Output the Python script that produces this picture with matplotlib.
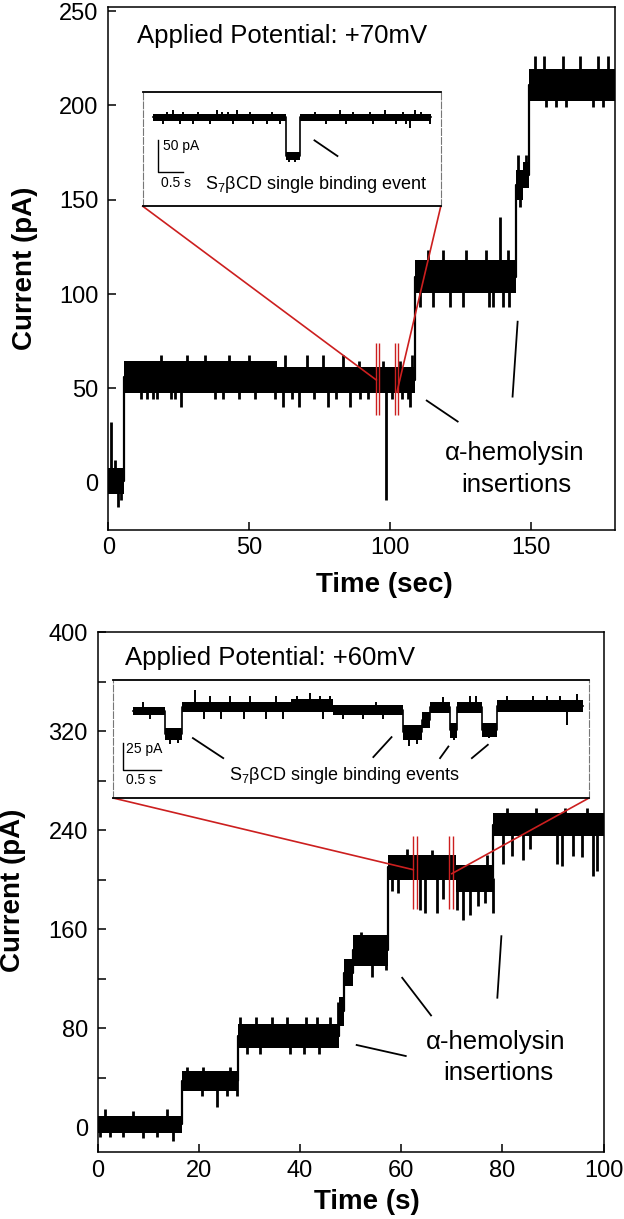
import numpy as np
import matplotlib
matplotlib.use("Agg")
import matplotlib.pyplot as plt
from matplotlib.ticker import MultipleLocator

plt.rcParams['font.family'] = ['Liberation Sans', 'DejaVu Sans']
plt.rcParams['mathtext.fontset'] = 'custom'
plt.rcParams['mathtext.rm'] = 'Liberation Sans'
plt.rcParams['mathtext.it'] = 'Liberation Sans:italic'
plt.rcParams['mathtext.default'] = 'regular'

# ---- top panel (+70 mV): noise band per level (edges, low, high) ----
top_edges = [0, 5.5, 60, 109, 144.9, 147.2, 149.6, 180]
top_lo = [-6, 47.5, 47.5, 100.5, 150, 156, 202.6]
top_hi = [8, 64.7, 61.5, 118, 165.6, 170, 219.4]
top_spk_t = [1.1, 2.4, 3.5, 4.6,
             11.7, 13.8, 16.0, 17.4, 18.8, 22.3, 23.7, 25.9, 28.0, 34.3, 37.9, 40.7,
             42.8, 46.4, 49.9, 52.0, 59.1, 61.9, 62.6, 65.4, 67.6, 70.4, 73.2, 76.1,
             78.2, 81.0, 83.4, 86.0, 89.0, 89.5, 92.3, 97.5, 98.5, 100.8, 103.5, 104.3,
             106.5, 107.2, 108.0,
             110.6, 113.5, 115.3, 118.8, 121.2, 126.0, 127.1, 134.2, 135.4, 136.6,
             139.3, 140.1, 141.9, 142.5,
             145.5, 146.2, 148.5,
             151.4, 154.9, 155.5, 159.1, 161.4, 162.6, 167.4, 172.1, 173.8, 175.6, 177.4]
top_spk_v = [32, 12, -12.7, -9,
             44.4, 44.4, 44.4, 44.4, 68, 44.4, 44.4, 40.4, 68, 68, 44.4, 44.4,
             68, 44.4, 68, 44.4, 44.4, 40.4, 68, 44.4, 40.4, 68, 44.4, 68,
             40.4, 44.4, 68, 40.4, 64.7, 44.4, 44.4, 64.7, -9, 44.4, 64.7, 44.4,
             44.4, 40.4, 68,
             93.3, 123.3, 93.3, 123.3, 93.3, 93.3, 123.3, 123.3, 93.3, 93.3,
             141, 93.3, 123.3, 93.3,
             173.5, 146, 174,
             226, 226, 199, 199, 226, 199, 226, 199, 226, 199, 226]

# inset of the top panel (single binding event)
ti_edges = [0.21, 2.86, 3.15, 5.78]
ti_lo = [49.2, -12.2, 49.2]
ti_hi = [60.8, 0.8, 60.8]
ti_spk_t = [0.48, 0.61, 0.81, 1.11, 1.48, 1.58, 1.71, 1.88, 2.15, 2.58, 3.45, 3.95,
            4.21, 4.55, 4.85, 5.21, 5.45, 5.58,
            0.41, 0.75, 1.01, 1.35, 1.81, 2.21, 2.48, 2.75, 3.68, 4.08, 4.61, 5.08,
            5.28, 5.35, 5.75, 2.92, 3.05]
ti_spk_v = [64, 66, 64, 64, 66, 64, 64, 66, 64, 64, 64, 66,
            64, 64, 66, 64, 66, 64,
            45, 45, 45, 45, 45, 45, 45, 45, 45, 45, 45, 45,
            45, 38, 45, -15, -15]

# ---- bottom panel (+60 mV) ----
bot_edges = [0, 16.6, 27.8, 47.8, 48.6, 50.4, 57.4, 70.8, 78.2, 100]
bot_lo = [-4.3, 29.3, 64.3, 82, 114, 130, 200, 190, 235]
bot_hi = [9.1, 45.4, 83, 105, 135.5, 155.6, 220, 212, 254]
bot_spk_t = [0.5, 1.5, 2.5, 5.1, 7.0, 9.0, 11.7, 13.7, 15.0,
             17.6, 20.6, 20.9, 23.5, 25.5, 26.2, 27.5,
             28.1, 29.5, 31.4, 32.1, 34.4, 37.4, 38.0, 40.7, 41.2, 43.3, 43.8, 45.9, 47.5,
             52.0, 54.3, 56.9,
             58.1, 59.4, 61.1, 63.7, 64.7, 66.0, 67.0, 68.3,
             71.0, 72.3, 73.6, 75.2, 76.6, 76.9, 78.1,
             80.2, 80.9, 81.8, 84.1, 85.5, 86.6, 90.7, 91.7, 92.3, 94.0, 95.7, 96.7, 98.0, 98.6]
bot_spk_v = [-8, 15, -8, -8, 13, -9, -8, 15, -11,
             49, 25, 49, 16, 25, 49, 25,
             89, 59, 89, 59, 89, 89, 59, 59, 89, 89, 59, 89, 101,
             158, 121, 127,
             190.6, 189, 224.7, 175.8, 173, 224, 173, 184,
             175.8, 167.7, 171.8, 178.5, 181, 220, 173,
             213, 258, 219, 216, 225, 258, 213, 211, 258, 219, 218, 258, 203, 207]

# inset of the bottom panel (binding events)
bi_edges = [0.26, 0.68, 0.9, 2.35, 2.9, 3.82, 4.07, 4.18, 4.44, 4.53, 4.86, 5.06, 6.2]
bi_lo = [197.5, 174.1, 200.6, 200.6, 197.5, 174.1, 185, 199.1, 176, 199, 177.2, 200.6]
bi_hi = [205.3, 185, 210, 212, 206.9, 188.1, 200, 210, 190, 210, 189.7, 211.6]
bi_spk_t = [0.39, 1.08, 1.27, 1.54, 1.8, 2.15, 2.42, 2.59, 2.72, 2.86, 3.47, 4.35,
            4.7, 4.79, 5.19, 5.54, 5.72, 5.89, 6.11,
            0.48, 1.2, 1.42, 1.73, 2.02, 2.24, 2.77, 3.03, 3.3, 3.56, 5.98,
            0.75, 0.85, 3.9, 4.0, 4.95, 4.49]
bi_spk_v = [210, 221, 215, 215, 215, 215, 215, 218, 215, 215, 210, 214,
            215, 215, 215, 215, 215, 215, 217,
            194, 194, 194, 194, 194, 194, 194, 194, 194, 194, 188,
            170, 171, 168, 170, 176, 174]

RED = '#cc1f1f'


def draw_trace(ax, edges, lo, hi, spk_t, spk_v, lw=1.6, slw=2.0):
    t = np.asarray(edges, float)
    lo = np.append(lo, lo[-1])
    hi = np.append(hi, hi[-1])
    mid = (lo + hi) / 2
    ax.fill_between(t, lo, hi, step='post', color='k', lw=0, zorder=2)
    ax.step(t, mid, where='post', color='k', lw=lw, zorder=2)
    idx = np.clip(np.searchsorted(t, spk_t, side='right') - 1, 0, len(mid) - 2)
    ax.vlines(spk_t, mid[idx], spk_v, color='k', lw=slw, zorder=2)


def style_axes(ax):
    for s in ax.spines.values():
        s.set_linewidth(1.1)
    ax.tick_params(which='both', direction='in', length=6, width=1.1,
                   labelsize=17, top=False, right=False)
    ax.tick_params(axis='y', pad=7)
    ax.tick_params(axis='x', pad=5)


def style_inset(ax):
    ax.set_xticks([])
    ax.set_yticks([])
    ax.set_facecolor('white')
    for side in ('top', 'bottom'):
        ax.spines[side].set_linewidth(1.3)
    for side in ('left', 'right'):
        ax.spines[side].set_linewidth(0.8)
        ax.spines[side].set_linestyle((0, (6, 2)))
        ax.spines[side].set_color('#777777')


fig = plt.figure(figsize=(6.24, 12.19), dpi=100, facecolor='white')

# ================= top panel =================
ax1 = fig.add_axes([0.1737, 0.5652, 0.8119, 0.4288])
draw_trace(ax1, top_edges, top_lo, top_hi, top_spk_t, top_spk_v)
ax1.set_xlim(0, 180)
ax1.set_ylim(-25, 252)
ax1.set_xticks([0, 50, 100, 150])
ax1.set_yticks([0, 50, 100, 150, 200, 250])
style_axes(ax1)
ax1.set_xlabel('Time (sec)', fontsize=20, fontweight='bold')
ax1.set_ylabel('Current (pA)', fontsize=20, fontweight='bold')
ax1.xaxis.set_label_coords(0.544, -0.08)
ax1.yaxis.set_label_coords(-0.139, 0.5)

ax1.text(10.3, 237, 'Applied Potential: +70mV', fontsize=18.5, va='center', ha='left')
ax1.text(144.5, 15.9, 'α-hemolysin', fontsize=18.5, ha='center', va='center')
ax1.text(145, -1, 'insertions', fontsize=18.5, ha='center', va='center')
ax1.plot([113.1, 124.1], [43.6, 32.5], color='k', lw=1.3)
ax1.plot([145.4, 143.6], [85.4, 45.7], color='k', lw=1.3)

# red zoom markers
ax1.plot([12.2, 95.2], [146.6, 54.5], color=RED, lw=1.2, zorder=4)
ax1.plot([118.1, 102.5], [146.6, 48], color=RED, lw=1.2, zorder=4)
ax1.vlines([95.2, 96.2, 101.8, 102.8], 36, 74, color=RED, lw=1.0, zorder=4)

ins1 = ax1.inset_axes([12.2, 146.6, 105.9, 60.3], transform=ax1.transData)
draw_trace(ins1, ti_edges, ti_lo, ti_hi, ti_spk_t, ti_spk_v, lw=1.2, slw=1.4)
ins1.set_xlim(0, 5.97)
ins1.set_ylim(-84, 94)
style_inset(ins1)
ins1.plot([0.31, 0.31, 0.81], [19, -31, -31], color='k', lw=1.0)
ins1.text(0.41, 9.7, '50 pA', fontsize=10, va='center', ha='left')
ins1.text(0.37, -48, '0.5 s', fontsize=10, va='center', ha='left')
ins1.text(1.25, -50, r'S$_7$βCD single binding event', fontsize=13, va='center', ha='left')
ins1.plot([3.44, 3.9], [19, -5.5], color='k', lw=1.3)

# ================= bottom panel =================
ax2 = fig.add_axes([0.1564, 0.055, 0.8109, 0.4265])
draw_trace(ax2, bot_edges, bot_lo, bot_hi, bot_spk_t, bot_spk_v)
ax2.set_xlim(0, 100)
ax2.set_ylim(-20, 400)
ax2.set_xticks([0, 20, 40, 60, 80, 100])
ax2.set_yticks([0, 80, 160, 240, 320, 400])
ax2.yaxis.set_minor_locator(MultipleLocator(40))
style_axes(ax2)
ax2.tick_params(axis='x', pad=6)
ax2.set_xlabel('Time (s)', fontsize=20, fontweight='bold')
ax2.set_ylabel('Current (pA)', fontsize=20, fontweight='bold')
ax2.xaxis.set_label_coords(0.532, -0.071)
ax2.yaxis.set_label_coords(-0.1415, 0.504)

ax2.text(5.5, 379, 'Applied Potential: +60mV', fontsize=18.5, va='center', ha='left')
ax2.text(78.7, 68.8, 'α-hemolysin', fontsize=18.5, ha='center', va='center')
ax2.text(79.1, 44, 'insertions', fontsize=18.5, ha='center', va='center')
ax2.plot([51.2, 60.9], [66.4, 57.5], color='k', lw=1.3)
ax2.plot([60.2, 65.9], [120.7, 90.3], color='k', lw=1.3)
ax2.plot([79.8, 79.0], [154.3, 104.6], color='k', lw=1.3)

ax2.plot([3.1, 62.4], [265.9, 208], color=RED, lw=1.2, zorder=4)
ax2.plot([97.1, 70.0], [265.9, 204.8], color=RED, lw=1.2, zorder=4)
ax2.vlines([62.4, 63.2, 69.5, 70.2], 176.4, 235.5, color=RED, lw=1.0, zorder=4)

ins2 = ax2.inset_axes([3.1, 265.9, 94.1, 95.4], transform=ax2.transData)
draw_trace(ins2, bi_edges, bi_lo, bi_hi, bi_spk_t, bi_spk_v, lw=1.2, slw=1.4)
ins2.set_xlim(0, 6.28)
ins2.set_ylim(119.4, 230.3)
style_inset(ins2)
ins2.plot([0.13, 0.13, 0.63], [171, 146, 146], color='k', lw=1.0)
ins2.text(0.17, 165.4, '25 pA', fontsize=10, va='center', ha='left')
ins2.text(0.17, 136, '0.5 s', fontsize=10, va='center', ha='left')
ins2.text(1.52, 140.6, r'S$_7$βCD single binding events', fontsize=13, va='center', ha='left')
ins2.plot([1.05, 1.45], [175.7, 156.9], color='k', lw=1.3)
ins2.plot([3.67, 3.43], [176.6, 157.9], color='k', lw=1.3)
ins2.plot([4.42, 4.31], [167.8, 156.9], color='k', lw=1.3)
ins2.plot([4.94, 4.73], [169.4, 156.9], color='k', lw=1.3)

fig.savefig('out.png', dpi=100, facecolor='white')
